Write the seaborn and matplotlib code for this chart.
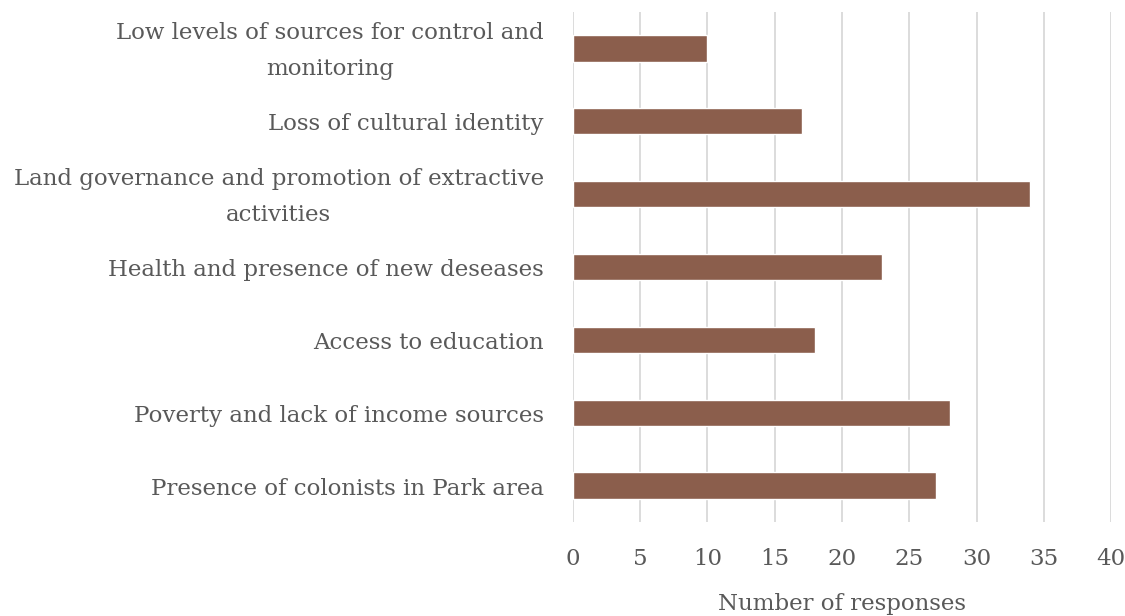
import matplotlib
matplotlib.use("Agg")
import matplotlib.pyplot as plt
import matplotlib.transforms as mtransforms
import seaborn as sns
import pandas as pd

categories = [
    "Low levels of sources for control and\nmonitoring",
    "Loss of cultural identity",
    "Land governance and promotion of extractive\nactivities",
    "Health and presence of new deseases",
    "Access to education",
    "Poverty and lack of income sources",
    "Presence of colonists in Park area",
]
responses = [10, 17, 34, 23, 18, 28, 27]
x_ticks = [0, 5, 10, 15, 20, 25, 30, 35, 40]
x_label = "Number of responses"

sns.set_theme(style="white")
plt.rcParams['font.family'] = ['DejaVu Serif']

df = pd.DataFrame({"category": categories, "responses": responses})

fig = plt.figure(figsize=(11.25, 6.16), dpi=100)
ax = fig.add_axes([0.5093, 0.1526, 0.9876 - 0.5093, 0.9805 - 0.1526])

sns.barplot(data=df, y="category", x="responses", orient="h", color="#8B5E4C",
            width=0.36, ax=ax, saturation=1)

ax.set_xlim(0, 40)
ax.set_xticks(x_ticks)
ax.set_xticklabels([str(t) for t in x_ticks])
ax.grid(axis="x", color="#D9D9D9", linewidth=1.3)
ax.set_axisbelow(True)
for s in ax.spines.values():
    s.set_visible(False)

txt = "#595959"
fs = 16.5
ax.tick_params(axis="x", length=0, pad=19, labelsize=fs, labelcolor=txt)
ax.tick_params(axis="y", length=0, pad=21, labelsize=fs, labelcolor=txt)
shift = mtransforms.ScaledTranslation(0, -3 / 100, fig.dpi_scale_trans)
for lbl in ax.get_yticklabels():
    lbl.set_linespacing(1.83)
    lbl.set_horizontalalignment("right")
    lbl.set_verticalalignment("center")
    lbl.set_multialignment("center")
    lbl.set_transform(lbl.get_transform() + shift)
ax.set_ylabel("")
ax.set_xlabel(x_label, fontsize=fs, color=txt, labelpad=16)

fig.savefig("out.png", dpi=100)
